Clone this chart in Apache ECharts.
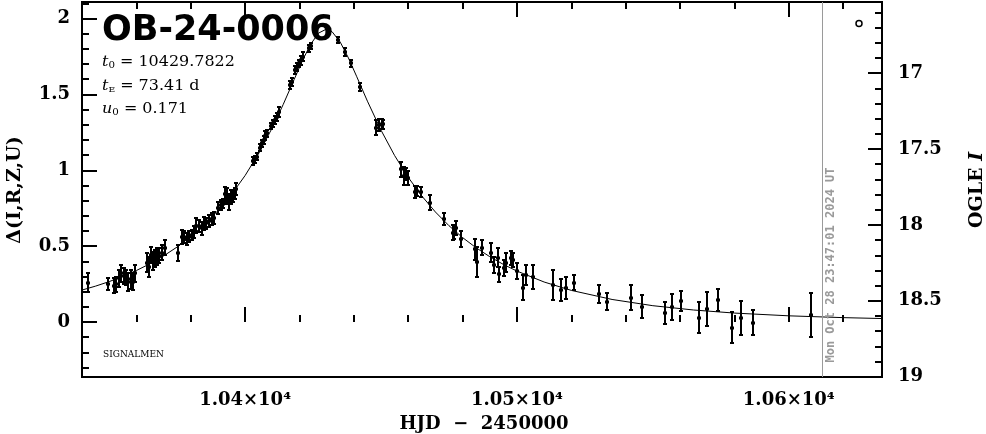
<!DOCTYPE html>
<html><head><meta charset="utf-8">
<script src="https://cdn.jsdelivr.net/npm/echarts@6/dist/echarts.min.js"></script>
<style>html,body{margin:0;padding:0;background:#fff}#c{width:986px;height:434px}</style>
</head><body><div id="c"></div>
<script>
// ---- data ----
const obsT = [10342.1, 10349.7, 10351.6, 10352.5, 10353.5, 10354.3, 10355.3, 10356.2, 10357.1, 10358.0, 10358.6, 10359.6,
  10363.9, 10364.5, 10365.4, 10366.0, 10366.9, 10367.6, 10368.4, 10369.4, 10370.6, 10375.3,
  10376.8, 10377.6, 10378.5, 10379.4, 10380.4, 10381.3, 10382.1, 10383.1, 10384.0, 10385.0, 10385.8, 10386.8, 10387.8, 10388.6,
  10390.2, 10391.1, 10391.7, 10392.6, 10393.3, 10394.2, 10394.8, 10395.4, 10396.3, 10396.8,
  10403.0, 10403.6, 10404.2, 10405.4, 10406.2, 10406.8, 10407.4, 10408.2, 10409.5, 10410.1, 10411.0, 10411.7, 10412.5,
  10416.5, 10417.1, 10418.3, 10419.0, 10419.9, 10420.7, 10421.4, 10423.6, 10424.3, 10434.2, 10436.7, 10439.0, 10442.3,
  10448.3, 10449.3, 10450.3, 10450.8, 10457.5, 10458.3, 10459.1, 10460.1, 10462.4, 10463.2, 10464.6, 10468.2, 10473.2,
  10476.3, 10476.9, 10477.7, 10479.6, 10484.6, 10485.4, 10487.3, 10490.4, 10491.6, 10493.1, 10493.4, 10495.3, 10496.1,
  10497.9, 10498.7, 10500.1, 10502.2, 10503.2, 10505.9, 10513.3, 10516.3, 10517.9, 10521.0, 10530.2, 10533.2, 10542.1,
  10546.1, 10554.3, 10557.1, 10560.2, 10566.9, 10570.0, 10574.0, 10579.2, 10582.3, 10586.8, 10608.2];
const obsD = [0.26, 0.25, 0.239, 0.25, 0.288, 0.321, 0.303, 0.294, 0.265, 0.281, 0.265, 0.321,
  0.392, 0.364, 0.441, 0.403, 0.420, 0.430, 0.436, 0.458, 0.491, 0.455,
  0.562, 0.558, 0.547, 0.562, 0.573, 0.591, 0.634, 0.634, 0.617, 0.650, 0.650, 0.667, 0.677, 0.688,
  0.754, 0.771, 0.779, 0.842, 0.831, 0.792, 0.825, 0.831, 0.848, 0.875,
  1.063, 1.072, 1.09, 1.150, 1.177, 1.199, 1.227, 1.243, 1.292, 1.309, 1.331, 1.352, 1.385,
  1.561, 1.583, 1.660, 1.682, 1.704, 1.726, 1.748, 1.803, 1.82, 1.86, 1.781, 1.704, 1.550,
  1.281, 1.298, 1.304, 1.304, 1.008, 0.963, 0.975, 0.949, 0.856, 0.863, 0.858, 0.787, 0.678,
  0.590, 0.590, 0.619, 0.547, 0.479, 0.397, 0.491, 0.458, 0.375, 0.425, 0.316, 0.356, 0.392,
  0.422, 0.408, 0.336, 0.227, 0.310, 0.298, 0.244, 0.211, 0.224, 0.260, 0.187, 0.134, 0.161,
  0.101, 0.059, 0.101, 0.138, 0.030, 0.086, 0.145, -0.036, 0.026, -0.003, 0.046];
const obsErr = [0.065, 0.04, 0.05, 0.05, 0.055, 0.055, 0.05, 0.05, 0.06, 0.06, 0.055, 0.055,
  0.06, 0.065, 0.055, 0.06, 0.055, 0.055, 0.05, 0.05, 0.05, 0.05,
  0.045, 0.04, 0.04, 0.035, 0.035, 0.04, 0.05, 0.04, 0.045, 0.045, 0.035, 0.04, 0.04, 0.04,
  0.04, 0.035, 0.03, 0.05, 0.05, 0.055, 0.045, 0.04, 0.035, 0.04,
  0.025, 0.025, 0.025, 0.025, 0.025, 0.025, 0.03, 0.025, 0.02, 0.025, 0.025, 0.025, 0.035,
  0.025, 0.025, 0.025, 0.025, 0.025, 0.03, 0.03, 0.025, 0.02, 0.02, 0.025, 0.025, 0.025,
  0.05, 0.04, 0.035, 0.03, 0.05, 0.06, 0.04, 0.045, 0.04, 0.035, 0.035, 0.05, 0.04,
  0.05, 0.04, 0.045, 0.05, 0.07, 0.1, 0.05, 0.06, 0.055, 0.06, 0.05, 0.055, 0.06,
  0.045, 0.045, 0.05, 0.08, 0.065, 0.08, 0.1, 0.075, 0.075, 0.05, 0.06, 0.055, 0.08,
  0.075, 0.075, 0.085, 0.065, 0.1, 0.115, 0.075, 0.1, 0.11, 0.08, 0.145];

// model curve as drawn in the reference
const modelT = [10340, 10345, 10350, 10355, 10360, 10365, 10370, 10375, 10380, 10385, 10390, 10395,
  10400, 10405, 10410, 10414, 10418, 10421, 10424, 10427, 10429.78, 10432, 10435, 10438, 10441, 10445,
  10450, 10455, 10460, 10465, 10470, 10475, 10480, 10485, 10490, 10495, 10500, 10510, 10520,
  10535, 10550, 10565, 10580, 10600, 10620, 10635];
const modelD = [0.2109, 0.2369, 0.2666, 0.3007, 0.3396, 0.3843, 0.4356, 0.4948, 0.5631, 0.6422, 0.7340, 0.8408,
  0.9655, 1.1110, 1.2803, 1.4329, 1.5966, 1.7187, 1.8274, 1.9039, 1.9293, 1.9130, 1.8448, 1.7407, 1.6199, 1.4555,
  1.2646, 1.0974, 0.9538, 0.8308, 0.7254, 0.6349, 0.5568, 0.4893, 0.4309, 0.3801, 0.3360, 0.2639, 0.2088,
  0.1489, 0.1079, 0.0794, 0.0593, 0.0411, 0.0292, 0.0229];
const nowT = 10612.49;

// ticks
const xMajorTicks = [10400, 10500, 10600];
const xTickLabels = ['1.04×10⁴', '1.05×10⁴', '1.06×10⁴'];
const xMinorTicks = [10360, 10380, 10420, 10440, 10460, 10480, 10520, 10540, 10560, 10580, 10620];
const yLeftMajor = [0, 0.5, 1, 1.5, 2];
const yLeftLabels = ['0', '0.5', '1', '1.5', '2'];
const yLeftMinor = [-0.3, -0.2, -0.1, 0.1, 0.2, 0.3, 0.4, 0.6, 0.7, 0.8, 0.9, 1.1, 1.2, 1.3, 1.4, 1.6, 1.7, 1.8, 1.9, 2.1];
const yRightMajor = [17, 17.5, 18, 18.5, 19];
const yRightLabels = ['17', '17.5', '18', '18.5', '19'];
const yRightMinor = [16.6, 16.7, 16.8, 16.9, 17.1, 17.2, 17.3, 17.4, 17.6, 17.7, 17.8, 17.9, 18.1, 18.2, 18.3, 18.4, 18.6, 18.7, 18.8, 18.9];

const X_MIN = 10340, X_MAX = 10634.3;
const YL_MIN = -0.362, YL_MAX = 2.109;
const YR_MIN = 16.531, YR_MAX = 19.002;

// ---- chart ----
const tickLine = {color: '#000', width: 2};
const labFont = {color: '#000', fontFamily: 'DejaVu Serif', fontWeight: 'bold', fontSize: 18};
function pick(vals, labs) {
  return function (v) {
    for (let i = 0; i < vals.length; i++) if (Math.abs(vals[i] - v) < 1e-6) return labs[i];
    return '';
  };
}
function xAx(pos, ticks, len, labels) {
  return {
    type: 'value', min: X_MIN, max: X_MAX, position: pos,
    axisLine: {show: false}, splitLine: {show: false},
    axisTick: {show: true, inside: true, length: len, customValues: ticks, lineStyle: tickLine},
    axisLabel: labels ? Object.assign({show: true, customValues: ticks, formatter: pick(ticks, labels), margin: 14}, labFont) : {show: false}
  };
}
function yAx(pos, mn, mx, inv, ticks, len, labels, margin) {
  return {
    type: 'value', min: mn, max: mx, inverse: inv, position: pos,
    axisLine: {show: false}, splitLine: {show: false},
    axisTick: {show: true, inside: true, length: len, customValues: ticks, lineStyle: tickLine},
    axisLabel: labels ? Object.assign({show: true, customValues: ticks, formatter: pick(ticks, labels), margin: margin}, labFont) : {show: false}
  };
}

const chart = echarts.init(document.getElementById('c'), null, {renderer: 'canvas'});
chart.setOption({
  animation: false,
  backgroundColor: '#fff',
  grid: {left: 82, right: 104, top: 2, bottom: 57, show: true, borderColor: '#000', borderWidth: 2, backgroundColor: 'transparent'},
  xAxis: [
    xAx('bottom', xMajorTicks, 15, xTickLabels),
    xAx('bottom', xMinorTicks, 7, null),
    xAx('top', xMajorTicks, 15, null),
    xAx('top', xMinorTicks, 7, null)
  ],
  yAxis: [
    yAx('left', YL_MIN, YL_MAX, false, yLeftMajor, 15, yLeftLabels, 12),
    yAx('left', YL_MIN, YL_MAX, false, yLeftMinor, 7, null, 0),
    yAx('right', YR_MIN, YR_MAX, true, yRightMajor, 14, yRightLabels, 16),
    yAx('right', YR_MIN, YR_MAX, true, yRightMinor, 7, null, 0)
  ],
  series: [
    {
      type: 'line', xAxisIndex: 0, yAxisIndex: 0,
      data: modelT.map((t, i) => [t, modelD[i]]),
      showSymbol: false, symbol: 'none', clip: true,
      lineStyle: {color: '#000', width: 1},
      z: 2,
      markLine: {
        silent: true, symbol: ['none', 'none'], label: {show: false},
        lineStyle: {color: '#9a9a9a', width: 1, type: 'solid'},
        data: [{xAxis: nowT}]
      }
    },
    {
      type: 'custom', xAxisIndex: 0, yAxisIndex: 0, clip: true, z: 3,
      data: obsT.map((t, i) => [t, obsD[i], obsErr[i]]),
      encode: {x: 0, y: 1},
      renderItem: function (params, api) {
        const t = api.value(0), d = api.value(1), e = api.value(2);
        const c = api.coord([t, d]);
        const hi = api.coord([t, d + e]);
        const lo = api.coord([t, d - e]);
        const x = Math.round(c[0]), yc = Math.round(c[1]);
        const y1 = Math.round(hi[1]), y2 = Math.round(lo[1]);
        const st = {stroke: '#000', lineWidth: 2};
        return {type: 'group', children: [
          {type: 'line', shape: {x1: x, y1: y1, x2: x, y2: y2}, style: st},
          {type: 'line', shape: {x1: x - 2, y1: y1, x2: x + 2, y2: y1}, style: st},
          {type: 'line', shape: {x1: x - 2, y1: y2, x2: x + 2, y2: y2}, style: st},
          {type: 'rect', shape: {x: x - 2, y: yc - 1.5, width: 4, height: 3}, style: {fill: '#000'}}
        ]};
      }
    }
  ],
  graphic: [
    {type: 'text', x: 102, y: 31, scaleX: 1.0, z: 10,
      style: {text: 'OB-24-0006', fontFamily: 'DejaVu Sans', fontWeight: 'bold', fontSize: 35, fill: '#000',
        textAlign: 'left', align: 'left', textVerticalAlign: 'middle', verticalAlign: 'middle'}},
    {type: 'text', x: 102, y: 62.5, scaleX: 1.14, z: 10,
      style: {text: '{i|t}{s|0}{n| = 10429.7822}', fill: '#000', textAlign: 'left', align: 'left', textVerticalAlign: 'middle', verticalAlign: 'middle',
        rich: {i: {fontFamily: 'DejaVu Serif', fontStyle: 'italic', fontSize: 14, lineHeight: 16},
          s: {fontFamily: 'DejaVu Serif', fontSize: 9, lineHeight: 9, verticalAlign: 'bottom'},
          n: {fontFamily: 'DejaVu Serif', fontSize: 14, lineHeight: 16}}}},
    {type: 'text', x: 102, y: 86, scaleX: 1.14, z: 10,
      style: {text: '{i|t}{s|E}{n| = 73.41 d}', fill: '#000', textAlign: 'left', align: 'left', textVerticalAlign: 'middle', verticalAlign: 'middle',
        rich: {i: {fontFamily: 'DejaVu Serif', fontStyle: 'italic', fontSize: 14, lineHeight: 16},
          s: {fontFamily: 'DejaVu Serif', fontSize: 8, lineHeight: 9, verticalAlign: 'bottom'},
          n: {fontFamily: 'DejaVu Serif', fontSize: 14, lineHeight: 16}}}},
    {type: 'text', x: 102, y: 109, scaleX: 1.14, z: 10,
      style: {text: '{i|u}{s|0}{n| = 0.171}', fill: '#000', textAlign: 'left', align: 'left', textVerticalAlign: 'middle', verticalAlign: 'middle',
        rich: {i: {fontFamily: 'DejaVu Serif', fontStyle: 'italic', fontSize: 14, lineHeight: 16},
          s: {fontFamily: 'DejaVu Serif', fontSize: 9, lineHeight: 9, verticalAlign: 'bottom'},
          n: {fontFamily: 'DejaVu Serif', fontSize: 14, lineHeight: 16}}}},
    {type: 'text', x: 103, y: 355, z: 10,
      style: {text: 'SIGNALMEN', fontFamily: 'DejaVu Serif', fontSize: 9, fill: '#000',
        textAlign: 'left', align: 'left', textVerticalAlign: 'middle', verticalAlign: 'middle'}},
    {type: 'circle', shape: {cx: 859, cy: 23.5, r: 3}, z: 10, style: {fill: 'none', stroke: '#000', lineWidth: 1.5}},
    {type: 'text', x: 831, y: 265, rotation: Math.PI / 2, z: 10,
      style: {text: 'Mon Oct 28 23:47:01 2024 UT', fontFamily: 'DejaVu Sans Mono', fontWeight: 'bold', fontSize: 12, fill: '#9a9a9a',
        textAlign: 'center', align: 'center', textVerticalAlign: 'middle', verticalAlign: 'middle'}},
    {type: 'text', x: 15, y: 190, rotation: Math.PI / 2, z: 10,
      style: {text: 'Δ(I,R,Z,U)', fontFamily: 'DejaVu Serif', fontWeight: 'bold', fontSize: 19, fill: '#000',
        textAlign: 'center', align: 'center', textVerticalAlign: 'middle', verticalAlign: 'middle'}},
    {type: 'text', x: 977, y: 190, rotation: Math.PI / 2, z: 10,
      style: {text: '{b|OGLE }{i|I}', fill: '#000', textAlign: 'center', align: 'center', textVerticalAlign: 'middle', verticalAlign: 'middle',
        rich: {b: {fontFamily: 'DejaVu Serif', fontWeight: 'bold', fontSize: 19},
          i: {fontFamily: 'DejaVu Serif', fontWeight: 'bold', fontStyle: 'italic', fontSize: 19}}}},
    {type: 'text', x: 484, y: 424, z: 10,
      style: {text: 'HJD  −  2450000', fontFamily: 'DejaVu Serif', fontWeight: 'bold', fontSize: 18, fill: '#000',
        textAlign: 'center', align: 'center', textVerticalAlign: 'middle', verticalAlign: 'middle'}}
  ]
});
</script>
</body></html>
